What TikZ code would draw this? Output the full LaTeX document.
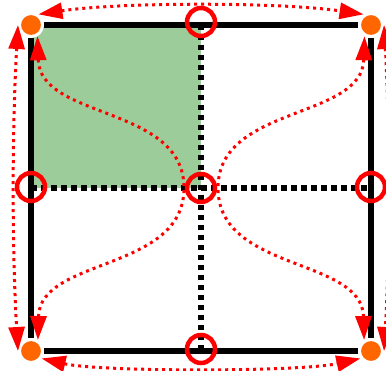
\documentclass[tikz,border=0pt]{standalone}
\usepackage{tikz}
\usetikzlibrary{arrows.meta}
\definecolor{quad}{RGB}{155,204,153}
\definecolor{dot}{RGB}{255,102,0}

\begin{document}
\begin{tikzpicture}[x=1pt, y=-1pt,
    corner/.style={circle, fill=dot, draw=white, line width=3pt, inner sep=0pt, minimum size=23pt},
    ring/.style={circle, draw=red, line width=4.5pt, inner sep=0pt, minimum size=28pt},
    side/.style={line width=6pt},
    half/.style={line width=5.5pt, dash pattern=on 5.5pt off 4.5pt},
    flow/.style={red, line width=3pt, dash pattern=on 3pt off 4pt,
      {Triangle[length=24pt,width=16pt]}-{Triangle[length=24pt,width=16pt]}}]

    \useasboundingbox (0,0) rectangle (386,371);
    \clip (0,0) rectangle (386,371);

    \fill[quad] (31,25) rectangle (201,188);
    \coordinate (mt) at (201,25);
    \coordinate (mb) at (201,351);
    \coordinate (ml) at (31,188);
    \coordinate (mr) at (371,188);
    \draw[half] (mt) -- (mb);
    \draw[half] (ml) -- (mr);

    \node[corner] (tl) at (31,25)  {};
    \node[corner] (tr) at (371,25) {};
    \node[corner] (bl) at (31,351) {};
    \node[corner] (br) at (371,351) {};
    \foreach \a/\b in {tl/tr, tr/br, br/bl, bl/tl} \draw[side] (\a) -- (\b);

    \node[ring] (rt) at (201,22)  {};
    \node[ring] (rl) at (31,187)  {};
    \node[ring] (rc) at (201,188) {};
    \node[ring] (rr) at (371,187) {};
    \node[ring] (rb) at (201,349) {};

    \draw[flow] (tl.55) .. controls (120,2) and (280,2) .. (tr.125);
    \draw[flow] (tl.west) .. controls (12,130) and (12,250) .. (bl.west);
    \draw[flow] (tr.east) .. controls (390,130) and (390,250) .. (br.east);
    \draw[flow] (bl.-35) .. controls (100,372) and (300,372) .. (br.-145);
    \draw[flow] (tl.-60) .. controls (40,120) and (184,105) .. (184,188)
                        .. controls (184,272) and (40,257) .. (bl.58);
    \draw[flow] (tr.-120) .. controls (362,120) and (218,105) .. (218,188)
                         .. controls (218,272) and (362,257) .. (br.122);
\end{tikzpicture}
\end{document}
